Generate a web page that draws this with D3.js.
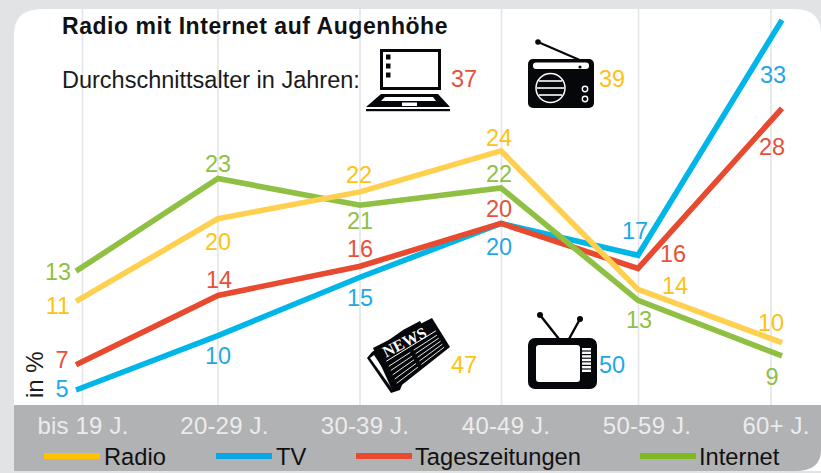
<!DOCTYPE html>
<html><head><meta charset="utf-8">
<script src="https://cdn.jsdelivr.net/npm/d3@7"></script>
<style>html,body{margin:0;padding:0;background:#e1e3e5}svg{display:block}text{font-family:"Liberation Sans",Arial,sans-serif}</style>
</head><body><div id="chart"></div>
<script>
// ---- data ----
const categories = ["bis 19 J.","20-29 J.","30-39 J.","40-49 J.","50-59 J.","60+ J."];
const seriesNames = ["Radio","TV","Tageszeitungen","Internet"];
// printed values
const radioValues    = [11,20,22,24,14,10];
const tvValues       = [5,10,15,20,17,33];
const zeitungValues  = [7,14,16,20,16,28];
const internetValues = [13,23,21,22,13,9];
// line heights (the original is not drawn strictly to scale)
const radioHeights    = [13.05,20.4,22.1,24.7,14.15,9.3];
const tvHeights       = [5,9.95,15.25,20.1,17.25,33];
const zeitungHeights  = [7.3,13.6,16.25,20.1,16.05,27.4];
const internetHeights = [15.8,22.95,21.25,22.35,13.15,8.1];
const averageAges = [39,50,47,37];

// ---- layout ----
const W=821,H=473;
const colors={line:["#ffd04f","#00b5e8","#e84a2f","#8fc043"],label:["#fdc311","#1fa8e6","#e8503a","#8fc043"],legend:["#fec200","#0ea5e4","#e84a2f","#80b821"]};
const lineX=[76,218,360,501,638,782], gridX=[82.5,218,360,501.5,638.5,771], tickX=[83,224.5,365,506,647,776];
// label offsets from the data point [dx, baseline dy], per series
const labelOffsets=[
 [[-18,13],[0,31],[-1,-9],[-2,-5],[37,5],[-11,-12]],
 [[-14,7],[0,28],[0,29],[-2,32],[-3,-16],[-9,63]],
 [[-14,3],[1,-7],[0,-9],[-2,-6],[35,-6],[-10,47]],
 [[-18,9],[0,-6],[0,24],[-2,-6],[1,28],[-10,29]]
];
const svg=d3.select("#chart").append("svg").attr("width",W).attr("height",H);
const x=d3.scaleOrdinal(categories,lineX);
const y=d3.scaleLinear().domain([5,20,33]).range([390,225,20]);

// panel
svg.append("rect").attr("width",W).attr("height",H).attr("fill","#e1e3e5");
svg.append("path").attr("d",`M14,471V35Q14,9 42,9H795Q821,9 821,35V471Z`).attr("fill","#fff");
svg.selectAll(".grid").data(gridX).join("line").attr("class","grid")
  .attr("x1",d=>d).attr("x2",d=>d).attr("y1",9).attr("y2",406).attr("stroke","#e4e5e7").attr("stroke-width",1.6);
svg.append("path").attr("d",`M14,405H821V450Q821,471 795,471H14Z`).attr("fill","#b1b2b4");

// lines
const heights=[radioHeights,tvHeights,zeitungHeights,internetHeights];
const values=[radioValues,tvValues,zeitungValues,internetValues];
const line=d3.line().x((d,i)=>x(categories[i])).y(d=>y(d));
[1,2,3,0].forEach(s=>{
  svg.append("path").attr("d",line(heights[s])).attr("fill","none").attr("stroke",colors.line[s])
    .attr("stroke-width",5.6).attr("stroke-linejoin","miter");
});
// value labels
heights.forEach((hs,s)=>hs.forEach((h,i)=>{
  svg.append("text").attr("x",x(categories[i])+labelOffsets[s][i][0]).attr("y",y(h)+labelOffsets[s][i][1])
    .attr("text-anchor","middle").attr("font-size",23.5).attr("fill",colors.label[s]).text(values[s][i]);
}));

// titles
svg.append("text").attr("x",62).attr("y",34).attr("font-size",23).attr("letter-spacing",0.55).attr("font-weight","bold").attr("fill","#111").text("Radio mit Internet auf Augenhöhe");
svg.append("text").attr("x",62).attr("y",88).attr("font-size",23.5).attr("fill","#1a1a1a").text("Durchschnittsalter in Jahren:");
svg.append("text").attr("transform","translate(43,398) rotate(-90)").attr("font-size",24).attr("fill","#1a1a1a").text("in %");

// axis tick labels
svg.selectAll(".tick").data(categories).join("text").attr("class","tick")
  .attr("x",(d,i)=>tickX[i]).attr("y",434).attr("text-anchor","middle").attr("font-size",24).attr("letter-spacing",0.2)
  .attr("fill","#ececec").text(d=>d);

// legend
const legX=[44,216,356,640],legText=[104,276,415,699];
seriesNames.forEach((n,i)=>{
  svg.append("rect").attr("x",legX[i]).attr("y",453).attr("width",56).attr("height",6).attr("fill",colors.legend[i]);
  svg.append("text").attr("x",legText[i]).attr("y",465).attr("font-size",23.7).attr("fill","#111").text(n);
});

// average age labels
[[612,87,0],[612,373,1],[464,373,0],[464,87,2]].forEach((p,i)=>{
  svg.append("text").attr("x",p[0]).attr("y",p[1]).attr("text-anchor","middle").attr("font-size",23.5)
    .attr("fill",colors.label[p[2]]).text(averageAges[i]);
});

// icons
const ink="#06070a";
// laptop
const lap=svg.append("g");
lap.append("rect").attr("x",381.5).attr("y",50.5).attr("width",58).attr("height",38).attr("fill","#fff").attr("stroke",ink).attr("stroke-width",3);
[57,66,75].forEach(v=>lap.append("rect").attr("x",386).attr("y",v-2.5).attr("width",4.5).attr("height",5).attr("fill",ink));
lap.append("path").attr("d","M381,94H438L450,107H366Z").attr("fill",ink);
lap.append("path").attr("d","M385,97H433L436,101H381Z").attr("fill","#fff");
lap.append("rect").attr("x",402).attr("y",102.5).attr("width",15).attr("height",3.5).attr("fill","#fff");
lap.append("rect").attr("x",366).attr("y",109).attr("width",84).attr("height",2.2).attr("fill",ink);
// radio
const rad=svg.append("g");
rad.append("line").attr("x1",538).attr("y1",42).attr("x2",582).attr("y2",61).attr("stroke",ink).attr("stroke-width",2);
rad.append("circle").attr("cx",538).attr("cy",42).attr("r",2.8).attr("fill",ink);
rad.append("rect").attr("x",528).attr("y",59).attr("width",66).attr("height",49).attr("rx",5).attr("fill",ink);
rad.append("rect").attr("x",533).attr("y",62.5).attr("width",56).attr("height",6.5).attr("rx",3).attr("fill","#fff");
rad.append("circle").attr("cx",580).attr("cy",67).attr("r",1.6).attr("fill",ink);
rad.append("circle").attr("cx",550.5).attr("cy",88).attr("r",14.5).attr("fill",ink).attr("stroke","#fff").attr("stroke-width",1.5);
[81,88,95].forEach(v=>rad.append("line").attr("x1",v===88?537:539).attr("x2",v===88?564:562).attr("y1",v).attr("y2",v).attr("stroke","#fff").attr("stroke-width",1.6));
[89,99].forEach(v=>rad.append("circle").attr("cx",585).attr("cy",v).attr("r",2.7).attr("fill",ink).attr("stroke","#fff").attr("stroke-width",1.4));
// tv
const tv=svg.append("g");
tv.append("path").attr("d","M540,315L559,339M580,319L569,339").attr("stroke",ink).attr("stroke-width",2.4).attr("fill","none");
tv.append("circle").attr("cx",540).attr("cy",315).attr("r",3).attr("fill",ink);
tv.append("circle").attr("cx",580).attr("cy",319).attr("r",3).attr("fill",ink);
tv.append("rect").attr("x",528).attr("y",338).attr("width",69).attr("height",51).attr("rx",7).attr("fill",ink);
tv.append("rect").attr("x",536).attr("y",345).attr("width",44).attr("height",37).attr("rx",3).attr("fill","#fff");
d3.range(7).forEach(k=>tv.append("rect").attr("x",582).attr("y",348+k*3.6).attr("width",9).attr("height",2.4).attr("fill","#fff"));
// newspaper
const np=svg.append("g");
np.append("path").attr("d","M367,358L372,352L403,330L420,321L424,328L400,390L391,393Z").attr("fill",ink);
np.append("path").attr("d","M370,358L374,355L396,388L393,390Z").attr("fill","#fff");
const corners=[[373,348],[432,318],[450,347],[393,392]]; // top-left, top-right, bottom-right, bottom-left
np.append("path").attr("d","M"+corners.join("L")+"Z").attr("fill",ink);
const P=(u,v)=>{const a=[0,1].map(k=>corners[0][k]+(corners[1][k]-corners[0][k])*u),b=[0,1].map(k=>corners[3][k]+(corners[2][k]-corners[3][k])*u);return [0,1].map(k=>a[k]+(b[k]-a[k])*v);};
const rule=(u0,u1,v,w)=>np.append("path").attr("d","M"+P(u0,v)+"L"+P(u1,v)).attr("stroke","#fff").attr("stroke-width",w).attr("fill","none");
rule(0.1,0.95,0.38,1);
[0.5,0.6,0.7,0.8,0.9].forEach(v=>{rule(0.1,0.47,v,0.9);rule(0.53,0.93,v,0.9);});
np.append("text").attr("transform","translate(407,347) rotate(-27)").attr("text-anchor","middle").attr("font-size",16).attr("font-weight","bold")
  .attr("style",'font-family:"Liberation Serif",serif').attr("fill","#fff").text("NEWS");
</script></body></html>
